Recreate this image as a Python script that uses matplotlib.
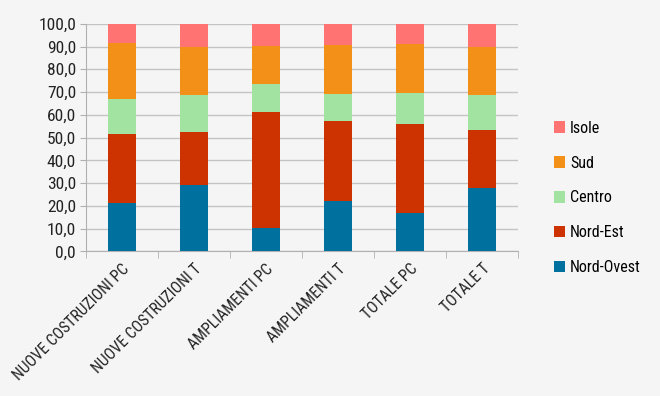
import numpy as np
import matplotlib.pyplot as plt
from matplotlib import font_manager
from matplotlib.ticker import FixedLocator

categories = ["NUOVE COSTRUZIONI PC", "NUOVE COSTRUZIONI T", "AMPLIAMENTI PC",
              "AMPLIAMENTI T", "TOTALE PC", "TOTALE T"]
nord_ovest = [21.2, 29.0, 10.4, 22.0, 16.7, 27.8]
nord_est = [30.5, 23.4, 50.8, 35.5, 39.2, 25.5]
centro = [15.1, 16.3, 12.2, 11.6, 13.6, 15.4]
sud = [24.6, 21.2, 16.9, 21.5, 21.7, 21.2]
isole = [8.6, 10.1, 9.7, 9.4, 8.8, 10.1]

series = [("Nord-Ovest", nord_ovest, "#00709e"),
          ("Nord-Est", nord_est, "#cc3300"),
          ("Centro", centro, "#a2e3a2"),
          ("Sud", sud, "#f29018"),
          ("Isole", isole, "#ff7373")]

# pick a narrow font if there is one
installed = {f.name for f in font_manager.fontManager.ttflist}
fam = "Lato"
for cand in ["Liberation Sans Narrow", "Roboto Condensed", "Open Sans Condensed", "Lato"]:
    if cand in installed:
        fam = cand
        break
plt.rcParams['font.family'] = [fam, 'DejaVu Sans']
bg = "#f5f5f5"

fig = plt.figure(figsize=(6.6, 3.96), dpi=100, facecolor=bg)
ax = fig.add_axes([0.130, 0.365, 0.655, 0.575], facecolor=bg)

x = np.arange(len(categories))
bottom = np.zeros(len(categories))
handles = []
for name, vals, col in series:
    b = ax.bar(x, vals, 0.39, bottom=bottom, color=col, label=name, zorder=3)
    handles.append(b)
    bottom += np.array(vals)

ax.set_ylim(0, 100)
ax.set_xlim(-0.5, len(categories) - 0.5)
ax.set_yticks(np.arange(0, 101, 10))
ax.set_yticklabels([f"{v:.1f}".replace(".", ",") for v in range(0, 101, 10)], fontsize=12.5, color="#222222")
ax.yaxis.grid(True, color="#c4c4c4", linewidth=1, zorder=0)
ax.tick_params(axis="y", length=4, color="#b0b0b0", pad=3)

ax.set_xticks(x)
ax.set_xticklabels(categories, rotation=45, ha="right", rotation_mode="anchor", fontsize=11.3, color="#222222")
ax.tick_params(axis="x", which="major", length=0, pad=7)
ax.xaxis.set_minor_locator(FixedLocator(np.arange(-0.5, len(categories), 1.0)))
ax.tick_params(axis="x", which="minor", length=5, color="#b0b0b0")

for s in ["top", "right"]:
    ax.spines[s].set_visible(False)
for s in ["left", "bottom"]:
    ax.spines[s].set_color("#b0b0b0")

leg = fig.legend(handles[::-1], [h.get_label() for h in handles[::-1]],
                 loc="center left", bbox_to_anchor=(0.818, 0.50), frameon=False,
                 fontsize=11.5, handlelength=0.7, handleheight=0.7, handletextpad=0.3,
                 labelspacing=1.25)

fig.savefig("out.png", dpi=100, facecolor=bg)
